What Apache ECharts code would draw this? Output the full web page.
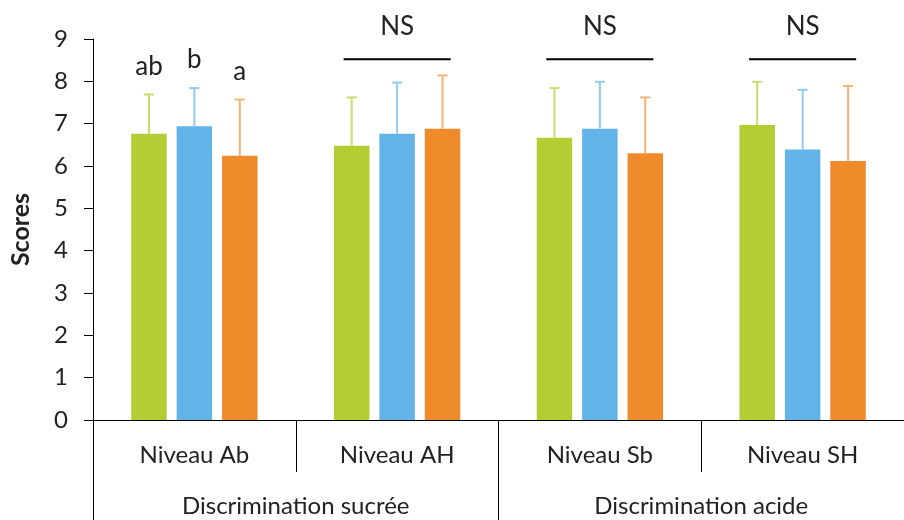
<!DOCTYPE html>
<html>
<head>
<meta charset="utf-8">
<script src="https://cdn.jsdelivr.net/npm/echarts@6/dist/echarts.min.js"></script>
<style>html,body{margin:0;padding:0;background:#fff;}#c{width:904px;height:520px;}</style>
</head>
<body>
<div id="c"></div>
<script>
const categories = ['Niveau Ab', 'Niveau AH', 'Niveau Sb', 'Niveau SH'];
const groups = ['Discrimination sucrée', 'Discrimination acide'];
const yTicks = [0, 1, 2, 3, 4, 5, 6, 7, 8, 9];

const greenMean = [6.76, 6.48, 6.67, 6.97];
const greenTop  = [7.69, 7.62, 7.84, 7.99];
const blueMean  = [6.94, 6.76, 6.88, 6.39];
const blueTop   = [7.84, 7.97, 7.99, 7.80];
const orangeMean = [6.24, 6.88, 6.30, 6.12];
const orangeTop  = [7.57, 8.14, 7.62, 7.89];

const greenLetters  = ['ab', '', '', ''];
const blueLetters   = ['b', '', '', ''];
const orangeLetters = ['a', '', '', ''];

const sigLabels = ['', 'NS', 'NS', 'NS'];
const sigLineValue = 8.52;
const sigTextValue = 9.29;

const FONT = 'Lato';
const TXT = '#222';
const BAR_W = 0.175, BAR_GAP = 0.28;

const colors = ['#b4cd33', '#62b4e8', '#f08b2c'];
const errColors = ['#c9dc72', '#92cbf0', '#f7b274'];

const chart = echarts.init(document.getElementById('c'), null, {renderer: 'canvas'});

function errSeries(i, means, tops, letters) {
  const data = means.map((m, k) => [k, m, tops[k], letters[k]]);
  return {
    type: 'custom', xAxisIndex: 0, yAxisIndex: 0, z: 5,
    data: data,
    encode: {x: 0, y: 2},
    renderItem: function (params, api) {
      const idx = api.value(0);
      const bw = api.size([1, 0])[0];
      const off = (i - 1) * bw * BAR_W * (1 + BAR_GAP);
      const pTop = api.coord([idx, api.value(2)]);
      const pMean = api.coord([idx, api.value(1)]);
      const x = pTop[0] + off;
      const st = {stroke: errColors[i], lineWidth: 2};
      const children = [
        {type: 'line', shape: {x1: x, y1: pMean[1], x2: x, y2: pTop[1]}, style: st},
        {type: 'line', shape: {x1: x - 5, y1: pTop[1], x2: x + 5, y2: pTop[1]}, style: st}
      ];
      const lab = data[params.dataIndex][3];
      if (lab) {
        children.push({type: 'text', style: {text: lab, x: x, y: pTop[1] - 15, align: 'center', verticalAlign: 'bottom',
          font: '26px ' + FONT, fill: TXT}});
      }
      return {type: 'group', children: children};
    }
  };
}

const sigData = [];
sigLabels.forEach((s, k) => { if (s) sigData.push([k, sigLineValue, sigTextValue, s]); });

const option = {
  backgroundColor: '#fff',
  animation: false,
  grid: {left: 92, top: 39, width: 820, height: 381, containLabel: false},
  xAxis: [
    {
      type: 'category', data: categories, position: 'bottom',
      axisLine: {show: true, lineStyle: {color: '#000', width: 1}},
      axisTick: {show: true, interval: 0, alignWithLabel: false, length: 52, lineStyle: {color: '#000', width: 1}},
      axisLabel: {margin: 23, color: TXT, fontFamily: FONT, fontSize: 24, interval: 0},
      splitLine: {show: false}
    },
    {
      type: 'category', data: groups, position: 'bottom', gridIndex: 0,
      axisLine: {show: true, lineStyle: {color: '#000', width: 1}},
      axisTick: {show: true, interval: 0, alignWithLabel: false, length: 110, lineStyle: {color: '#000', width: 1}},
      axisLabel: {margin: 74, color: TXT, fontFamily: FONT, fontSize: 24, interval: 0},
      splitLine: {show: false}
    }
  ],
  yAxis: {
    type: 'value', min: yTicks[0], max: yTicks[yTicks.length - 1], interval: 1,
    name: 'Scores', nameLocation: 'middle', nameRotate: 90, nameGap: 60,
    nameTextStyle: {fontFamily: FONT, fontSize: 25, fontWeight: 'bold', color: TXT},
    axisLine: {show: true, lineStyle: {color: '#000', width: 1}},
    axisTick: {show: true, inside: false, length: 9, lineStyle: {color: '#000', width: 1}},
    axisLabel: {margin: 25, color: TXT, fontFamily: FONT, fontSize: 24},
    splitLine: {show: false}
  },
  series: [
    {type: 'bar', name: 'g', data: greenMean, barWidth: (BAR_W * 100) + '%', barGap: (BAR_GAP * 100) + '%',
      itemStyle: {color: colors[0]}, xAxisIndex: 0},
    {type: 'bar', name: 'b', data: blueMean, barWidth: (BAR_W * 100) + '%', barGap: (BAR_GAP * 100) + '%',
      itemStyle: {color: colors[1]}, xAxisIndex: 0},
    {type: 'bar', name: 'o', data: orangeMean, barWidth: (BAR_W * 100) + '%', barGap: (BAR_GAP * 100) + '%',
      itemStyle: {color: colors[2]}, xAxisIndex: 0},
    errSeries(0, greenMean, greenTop, greenLetters),
    errSeries(1, blueMean, blueTop, blueLetters),
    errSeries(2, orangeMean, orangeTop, orangeLetters),
    {
      type: 'custom', xAxisIndex: 0, yAxisIndex: 0, z: 6, data: sigData, encode: {x: 0, y: 1},
      renderItem: function (params, api) {
        const idx = api.value(0);
        const bw = api.size([1, 0])[0];
        const pl = api.coord([idx, api.value(1)]);
        const pt = api.coord([idx, api.value(2)]);
        const half = bw * 0.264;
        return {type: 'group', children: [
          {type: 'line', shape: {x1: pl[0] - half, y1: pl[1], x2: pl[0] + half, y2: pl[1]}, style: {stroke: '#000', lineWidth: 2}},
          {type: 'text', style: {text: sigData[params.dataIndex][3], x: pt[0], y: pt[1], align: 'center', verticalAlign: 'middle',
            font: '26px ' + FONT, fill: TXT}}
        ]};
      }
    }
  ]
};
chart.setOption(option);
</script>
</body>
</html>
